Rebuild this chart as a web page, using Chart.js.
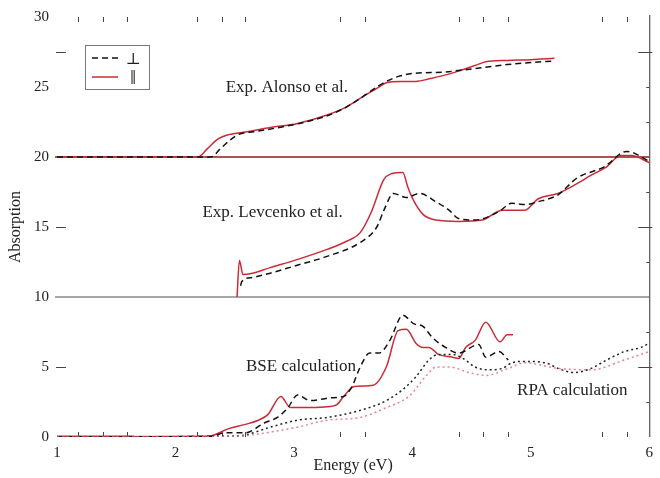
<!DOCTYPE html>
<html>
<head>
<meta charset="utf-8">
<script src="https://cdn.jsdelivr.net/npm/chart.js@4/dist/chart.umd.min.js"></script>
<style>
  html, body { margin: 0; padding: 0; background: #fff; }
  #wrap { width: 660px; height: 478px; position: relative; }
</style>
</head>
<body>
<div id="wrap"><canvas id="absChart"></canvas></div>
<script>
// values, [energy eV, plotted absorption]
const alonsoPerp = [[1.0,20],[2.30,20.0],[2.38,20.6],[2.46,21.2],[2.53,21.6],[2.70,21.85],[2.90,22.15],[3.10,22.5],[3.30,23.0],[3.45,23.6],[3.58,24.3],[3.70,25.0],[3.78,25.4],[3.90,25.8],[4.05,26.0],[4.25,26.05],[4.41,26.2],[4.60,26.4],[4.80,26.6],[5.00,26.75],[5.20,26.85]];
const alonsoPar = [[1.0,20],[2.19,20.0],[2.27,20.6],[2.36,21.3],[2.45,21.6],[2.60,21.8],[2.80,22.1],[3.03,22.4],[3.28,23.0],[3.45,23.6],[3.58,24.3],[3.70,24.9],[3.78,25.3],[3.90,25.4],[4.03,25.4],[4.15,25.6],[4.30,25.9],[4.41,26.2],[4.55,26.6],[4.62,26.8],[4.80,26.9],[5.00,26.95],[5.20,27.05]];

const levcenkoPerp = [[2.55,10.8],[2.56,11.1],[2.65,11.4],[2.80,11.7],[3.0,12.2],[3.28,12.9],[3.56,13.9],[3.70,15.0],[3.76,16.2],[3.84,17.4],[3.95,17.1],[4.06,17.4],[4.20,16.8],[4.31,16.2],[4.39,15.6],[4.53,15.5],[4.73,16.1],[4.84,16.7],[4.95,16.6],[5.06,16.8],[5.23,17.3],[5.39,18.5],[5.62,19.3],[5.81,20.4],[6.0,19.7]];
const levcenkoPar = [[2.52,10.0],[2.54,12.6],[2.57,11.6],[2.65,11.7],[2.80,12.1],[3.0,12.6],[3.28,13.4],[3.45,14.0],[3.56,14.6],[3.65,16.0],[3.76,18.4],[3.82,18.8],[3.92,18.9],[3.96,17.9],[4.01,16.9],[4.09,15.9],[4.20,15.5],[4.39,15.4],[4.59,15.5],[4.76,16.2],[4.95,16.2],[5.06,17.0],[5.23,17.4],[5.39,18.1],[5.51,18.7],[5.64,19.3],[5.76,20.1],[5.85,20.1],[6.0,19.6]];

const bsePerp = [[1.0,0],[2.30,0.05],[2.42,0.3],[2.59,0.3],[2.75,1.0],[2.86,1.4],[2.95,2.1],[3.03,3.0],[3.14,2.6],[3.31,2.8],[3.42,2.9],[3.49,3.6],[3.56,5.0],[3.64,6.0],[3.72,6.0],[3.81,6.9],[3.92,8.7],[4.01,8.1],[4.09,7.9],[4.17,7.1],[4.28,6.4],[4.39,6.0],[4.56,6.6],[4.62,5.7],[4.73,6.1],[4.81,5.5]];
const bsePar = [[1.0,0],[2.28,0.05],[2.45,0.6],[2.59,0.9],[2.70,1.2],[2.78,1.6],[2.89,2.9],[2.97,2.1],[3.09,2.1],[3.26,2.15],[3.36,2.3],[3.42,2.9],[3.51,3.6],[3.67,3.7],[3.78,5.0],[3.88,7.6],[3.95,7.7],[4.03,6.7],[4.09,6.4],[4.14,6.4],[4.22,5.9],[4.34,5.7],[4.39,5.6],[4.45,6.4],[4.53,6.9],[4.62,8.2],[4.74,6.8],[4.80,7.3],[4.85,7.3]];
const rpaPerp = [[1.0,0],[2.40,0.05],[2.59,0.15],[2.80,0.7],[3.03,1.2],[3.28,1.4],[3.56,1.9],[3.78,2.6],[3.92,3.4],[4.03,4.3],[4.14,5.5],[4.22,5.9],[4.34,5.9],[4.43,5.6],[4.53,5.0],[4.64,4.8],[4.76,4.9],[4.84,5.3],[4.95,5.4],[5.12,5.3],[5.26,4.8],[5.37,4.6],[5.51,4.9],[5.64,5.5],[5.79,6.1],[5.93,6.4],[6.0,6.7]];
const rpaPar = [[1.0,0],[2.40,0.02],[2.59,0.1],[2.80,0.35],[3.03,0.7],[3.28,1.2],[3.56,1.4],[3.78,2.1],[3.97,2.9],[4.12,4.4],[4.20,5.0],[4.31,5.0],[4.48,4.6],[4.62,4.4],[4.81,4.9],[4.95,5.3],[5.23,4.9],[5.51,4.8],[5.79,5.5],[6.0,6.1]];
const lowEdge = [[1.0,0],[1.65,0]];

const baselines = [20, 10];
const xMinorTicks = [1.18,1.39,1.59,2.18,2.39,2.59,3.39,3.6,4.39,4.6,4.81,5.6,5.81];
const yLongTicks = [27.5, 15, 5];
const yShortTicks = [25, 22.5, 17.5, 12.5, 7.5, 2.5];
const notes = [
  { text: "Exp. Alonso et al.",   x: 2.94, y: 24.95 },
  { text: "Exp. Levcenko et al.", x: 2.82, y: 16.0 },
  { text: "BSE calculation",      x: 3.06, y: 5.0 },
  { text: "RPA calculation",      x: 5.35, y: 3.35 }
];
const legendLabels = ["⊥", "‖"];

const RED = "#cc2a36";
const PINK = "rgba(226,110,120,0.85)";
const SERIF = "'Liberation Serif', 'DejaVu Serif', serif";

function pts(arr) {
  return arr.map(p => ({ x: p[0], y: p[1] }));
}

function line(data, color, dash, width) {
  return {
    data: pts(data),
    borderColor: color,
    borderDash: dash,
    borderWidth: width || 1.5,
    pointRadius: 0,
    cubicInterpolationMode: "monotone",
    fill: false
  };
}

const decorations = {
  id: "decorations",
  beforeDatasetsDraw(chart) {
    const c = chart.ctx, xs = chart.scales.x, ys = chart.scales.y;
    const a = chart.chartArea;
    c.save();
    // panel baselines
    baselines.forEach((v, i) => {
      c.strokeStyle = i === 0 ? "#8e1b1b" : "#8a8a8a";
      c.lineWidth = 1.5;
      c.beginPath();
      c.moveTo(a.left - 2, ys.getPixelForValue(v));
      c.lineTo(a.right, ys.getPixelForValue(v));
      c.stroke();
    });
    // right frame
    c.strokeStyle = "#333";
    c.lineWidth = 1;
    c.beginPath();
    c.moveTo(a.right + 0.5, a.top - 2);
    c.lineTo(a.right + 0.5, a.bottom);
    c.stroke();
    // x minor ticks, top and bottom
    c.strokeStyle = "#444";
    xMinorTicks.forEach(v => {
      const px = Math.round(xs.getPixelForValue(v)) + 0.5;
      c.beginPath();
      c.moveTo(px, a.top); c.lineTo(px, a.top + 5);
      c.moveTo(px, a.bottom); c.lineTo(px, a.bottom - 5);
      c.stroke();
    });
    // y ticks
    yLongTicks.forEach(v => {
      const py = Math.round(ys.getPixelForValue(v)) + 0.5;
      c.beginPath();
      c.moveTo(a.right - 11, py); c.lineTo(a.right + 3, py);
      c.moveTo(a.left - 1, py); c.lineTo(a.left + 9, py);
      c.stroke();
    });
    yShortTicks.forEach(v => {
      const py = Math.round(ys.getPixelForValue(v)) + 0.5;
      c.beginPath();
      c.moveTo(a.right - 3, py); c.lineTo(a.right, py);
      c.stroke();
    });
    c.restore();
  },
  afterDatasetsDraw(chart) {
    const c = chart.ctx, xs = chart.scales.x, ys = chart.scales.y;
    const a = chart.chartArea;
    c.save();
    c.fillStyle = "#222";
    c.font = "17px " + SERIF;
    c.textAlign = "center";
    c.textBaseline = "middle";
    notes.forEach(n => {
      c.fillText(n.text, xs.getPixelForValue(n.x), ys.getPixelForValue(n.y));
    });

    // legend box
    const bx = a.left + 28, by = a.top + 28;
    c.strokeStyle = "#777";
    c.lineWidth = 1;
    c.strokeRect(bx + 0.5, by + 0.5, 64, 44);
    const ds = chart.data.datasets;
    [ds[0], ds[1]].forEach((d, i) => {
      const ly = by + 13 + i * 19;
      c.strokeStyle = d.borderColor;
      c.lineWidth = d.borderWidth;
      c.setLineDash(d.borderDash || []);
      c.beginPath();
      c.moveTo(bx + 7, ly); c.lineTo(bx + 33, ly);
      c.stroke();
      c.setLineDash([]);
      c.fillStyle = "#222";
      c.font = (i === 0 ? "16px " : "22px ") + SERIF;
      c.fillText(legendLabels[i], bx + 48, ly + (i === 0 ? 2 : 1));
    });
    c.restore();
  }
};

new Chart(document.getElementById("absChart"), {
  type: "line",
  data: {
    datasets: [
      line(alonsoPerp, "#111", [6, 4]),
      line(alonsoPar, RED, []),
      line(levcenkoPerp, "#111", [6, 4]),
      line(levcenkoPar, RED, []),
      line(rpaPar, PINK, [2, 3]),
      line(rpaPerp, "#222", [2, 3]),
      line(bsePerp, "#111", [6, 4]),
      line(bsePar, RED, []),
      line(lowEdge, RED, [], 3)
    ]
  },
  options: {
    responsive: true,
    maintainAspectRatio: false,
    animation: false,
    parsing: false,
    layout: { padding: { top: 17, right: 4, left: 0, bottom: 0 } },
    plugins: {
      legend: { display: false },
      tooltip: { enabled: false }
    },
    scales: {
      x: {
        type: "linear",
        min: 1,
        max: 6,
        afterFit(scale) { scale.height = 41; },
        ticks: {
          stepSize: 1,
          padding: 7,
          color: "#222",
          font: { family: SERIF, size: 15 }
        },
        grid: { display: false, drawTicks: false },
        border: { display: false },
        title: {
          display: true,
          text: "Energy (eV)",
          color: "#222",
          font: { family: SERIF, size: 16 },
          padding: { top: 0, bottom: 3 }
        }
      },
      y: {
        min: 0,
        max: 30,
        afterFit(scale) { scale.width = 57; },
        ticks: {
          stepSize: 5,
          padding: 8,
          color: "#222",
          font: { family: SERIF, size: 15 }
        },
        grid: { display: false, drawTicks: false },
        border: { display: false },
        title: {
          display: true,
          text: "Absorption",
          color: "#222",
          font: { family: SERIF, size: 16 },
          padding: { top: 6, bottom: 0 }
        }
      }
    }
  },
  plugins: [decorations]
});
</script>
</body>
</html>
